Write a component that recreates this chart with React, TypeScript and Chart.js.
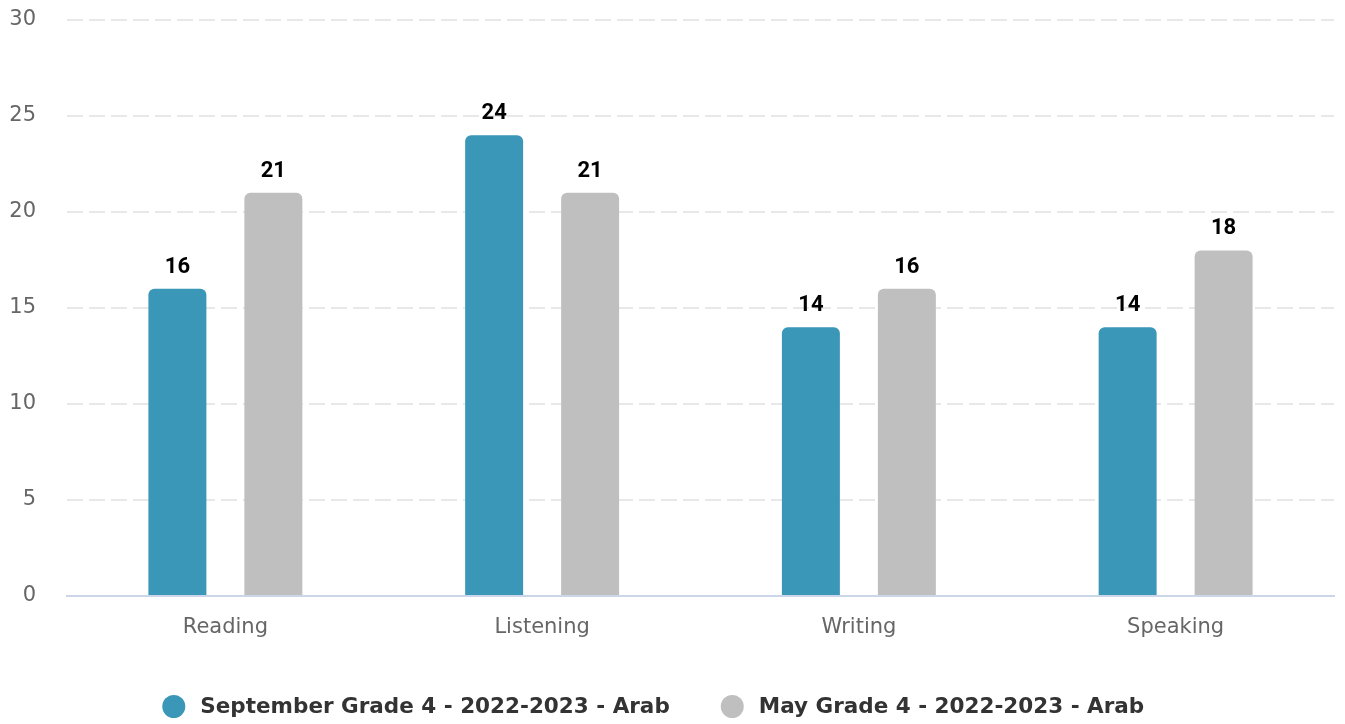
import React, { useEffect, useRef } from "react";
import { Chart, registerables } from "chart.js";

Chart.register(...registerables);

const categories = ["Reading", "Listening", "Writing", "Speaking"];
const septemberValues = [16, 24, 14, 14];
const mayValues = [21, 21, 16, 18];
const seriesNames = [
  "September Grade 4 - 2022-2023 - Arab",
  "May Grade 4 - 2022-2023 - Arab",
];
const seriesColors = ["#3a97b8", "#bfbfbf"];
const yTicks = [0, 5, 10, 15, 20, 25, 30];

const FONT = "'DejaVu Sans', sans-serif";
const LABEL_FONT = "bold 22px Roboto, 'DejaVu Sans', sans-serif";
const LEGEND_FONT = `bold 21.5px ${FONT}`;

const dataLabelPlugin = {
  id: "dataLabels",
  afterDatasetsDraw(chart: any) {
    const ctx = chart.ctx;
    ctx.save();
    ctx.font = LABEL_FONT;
    ctx.fillStyle = "#000000";
    ctx.textAlign = "center";
    ctx.textBaseline = "alphabetic";
    chart.data.datasets.forEach((ds: any, i: number) => {
      const meta = chart.getDatasetMeta(i);
      meta.data.forEach((el: any, j: number) => {
        ctx.fillText(String(ds.data[j]), el.x, el.y - 16);
      });
    });
    ctx.restore();
  },
};

const customLegendPlugin = {
  id: "customLegend",
  afterDraw(chart: any) {
    const ctx = chart.ctx;
    ctx.save();
    ctx.font = LEGEND_FONT;
    const radius = 11.5;
    const textGap = 26.5;
    const itemGap = 51;
    const items = chart.data.datasets.map((ds: any) => ({
      label: ds.label,
      color: ds.backgroundColor,
      w: ctx.measureText(ds.label).width,
    }));
    let total = 0;
    items.forEach((it: any, i: number) => {
      total += radius + textGap + it.w;
      if (i < items.length - 1) total += itemGap + radius;
    });
    const centerX = 659;
    const y = 706.5;
    let x = centerX - total / 2;
    items.forEach((it: any) => {
      ctx.fillStyle = it.color;
      ctx.beginPath();
      ctx.arc(x + radius, y, radius, 0, Math.PI * 2);
      ctx.fill();
      ctx.fillStyle = "#333333";
      ctx.textAlign = "left";
      ctx.textBaseline = "middle";
      ctx.fillText(it.label, x + radius + textGap, y + 1);
      x += radius + textGap + it.w + itemGap;
    });
    ctx.restore();
  },
};

export default function App() {
  const ref = useRef<HTMLCanvasElement>(null);
  useEffect(() => {
    document.body.style.margin = "0";
    const chart = new Chart(ref.current!, {
      type: "bar",
      data: {
        labels: categories,
        datasets: [
          {
            label: seriesNames[0],
            data: septemberValues,
            backgroundColor: seriesColors[0],
            borderRadius: { topLeft: 6, topRight: 6, bottomLeft: 0, bottomRight: 0 },
            borderSkipped: false,
            categoryPercentage: 0.606,
            barPercentage: 0.604,
          },
          {
            label: seriesNames[1],
            data: mayValues,
            backgroundColor: seriesColors[1],
            borderRadius: { topLeft: 6, topRight: 6, bottomLeft: 0, bottomRight: 0 },
            borderSkipped: false,
            categoryPercentage: 0.606,
            barPercentage: 0.604,
          },
        ],
      },
      plugins: [dataLabelPlugin, customLegendPlugin],
      options: {
        animation: false,
        responsive: false,
        maintainAspectRatio: false,
        layout: { padding: { top: 0, right: 11, left: 0, bottom: 0 } },
        plugins: {
          tooltip: { enabled: false },
          legend: { display: false },
        },
        scales: {
          x: {
            grid: { display: false, drawTicks: false },
            border: { display: true, color: "#ccd6eb", width: 2 },
            ticks: {
              color: "#666666",
              font: { family: FONT, size: 21 },
              padding: 19,
            },
            afterFit(scale: any) {
              scale.height = 128;
            },
          },
          y: {
            min: 0,
            max: 30,
            afterBuildTicks(scale: any) {
              scale.ticks = yTicks.map((v) => ({ value: v }));
            },
            grid: {
              drawTicks: false,
              color: (c: any) => (c.tick && c.tick.value === 0 ? "rgba(0,0,0,0)" : "#e8e8e8"),
              lineWidth: 2,
            },
            border: { display: false, dash: [16, 6] },
            ticks: {
              color: "#666666",
              font: { family: FONT, size: 21 },
              padding: 31,
            },
            afterFit(scale: any) {
              scale.width = 67;
              scale.paddingTop = 20;
              scale.paddingBottom = 0;
            },
          },
        },
      },
    });
    return () => chart.destroy();
  }, []);
  return <canvas ref={ref} width={1345} height={724} style={{ display: "block" }} />;
}
